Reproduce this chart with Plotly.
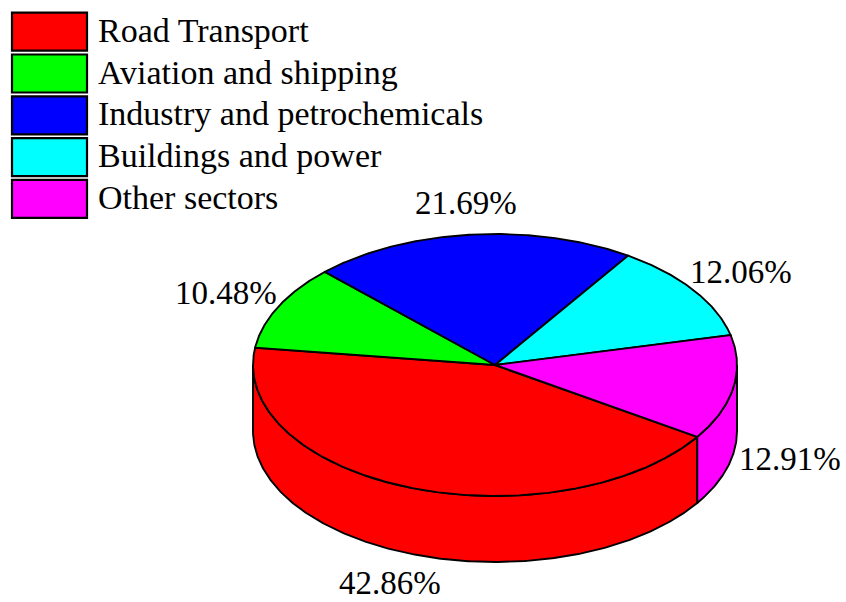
import numpy as np
import plotly.graph_objects as go

# Share of oil demand by sector (%)
sectors = ["Road Transport", "Aviation and shipping", "Industry and petrochemicals",
           "Buildings and power", "Other sectors"]
shares = [42.86, 10.48, 21.69, 12.06, 12.91]
colors = ["#FF0000", "#00FF00", "#0000FF", "#00FFFF", "#FF00FF"]

W, H = 846, 602
CX, CY = 495, 365          # centre of the top face (px)
RX, RY = 242, 131          # ellipse radii of the tilted disc
DEPTH = 66                 # thickness of the disc
START = -33.3              # angle where the first slice begins; slices run clockwise
LABEL_K = 1.24             # label distance relative to the radius
FONT = "Liberation Serif, Times New Roman, serif"


def pt(t_deg, drop=0.0):
    t = np.radians(t_deg)
    return CX + RX * np.cos(t), CY - RY * np.sin(t) + drop


def arc(a, b, drop=0.0, step=0.5):
    n = max(2, int(abs(b - a) / step) + 1)
    ts = np.linspace(a, b, n)
    x, y = pt(ts, drop)
    return list(x), list(y)


total = float(sum(shares))
cum = np.concatenate([[0.0], np.cumsum(shares)])
t0 = START - 360.0 * cum[:-1] / total   # slice start angle
t1 = START - 360.0 * cum[1:] / total    # slice end angle (t1 < t0)

fig = go.Figure()
line = dict(color="black", width=1.9)

# Front side walls (visible where sin(t) < 0)
for i in range(len(shares)):
    for k in range(-2, 2):
        lo = max(t1[i], -180 + 360 * k)
        hi = min(t0[i], 360 * k)
        if hi > lo:
            xt, yt = arc(lo, hi)
            xb, yb = arc(hi, lo, DEPTH)
            fig.add_trace(go.Scatter(
                x=xt + xb + [xt[0]], y=yt + yb + [yt[0]],
                mode="lines", fill="toself", fillcolor=colors[i], line=line,
                hoverinfo="skip", showlegend=False))

# Top faces
for i in range(len(shares)):
    xa, ya = arc(t0[i], t1[i])
    fig.add_trace(go.Scatter(
        x=[CX] + xa + [CX], y=[CY] + ya + [CY],
        mode="lines", fill="toself", fillcolor=colors[i], line=line,
        hoverinfo="skip", showlegend=False, name=sectors[i]))

# Percentage labels just outside each slice
annotations = []
for i, v in enumerate(shares):
    mid = (t0[i] + t1[i]) / 2.0
    r = np.radians(mid)
    lx = CX + LABEL_K * RX * np.cos(r)
    ly = CY - LABEL_K * RY * np.sin(r)
    if np.sin(r) < 0:
        ly += DEPTH
    annotations.append(dict(x=lx, y=ly, text=f"{v:.2f}%", showarrow=False,
                            xanchor="center", yanchor="middle",
                            font=dict(family=FONT, size=33, color="black")))

# Legend: colour boxes with sector names
shapes = []
BOX_X0, BOX_X1 = 12, 87
BOX_TOP, BOX_H, BOX_STEP = 12.7, 38, 41.8
for i, name in enumerate(sectors):
    y0 = BOX_TOP + i * BOX_STEP
    shapes.append(dict(type="rect", xref="x", yref="y", x0=BOX_X0, x1=BOX_X1,
                       y0=y0, y1=y0 + BOX_H, fillcolor=colors[i],
                       line=dict(color="black", width=2.2), layer="above"))
    annotations.append(dict(x=96, y=y0 + BOX_H / 2 - 1.5, text=name, showarrow=False,
                            xanchor="left", yanchor="middle",
                            font=dict(family=FONT, size=34, color="black")))

fig.update_layout(
    width=W, height=H,
    margin=dict(l=0, r=0, t=0, b=0),
    paper_bgcolor="white", plot_bgcolor="white",
    xaxis=dict(range=[0, W], visible=False, fixedrange=True),
    yaxis=dict(range=[H, 0], visible=False, fixedrange=True),
    shapes=shapes, annotations=annotations,
    showlegend=False,
)

fig.write_html("out.html")
